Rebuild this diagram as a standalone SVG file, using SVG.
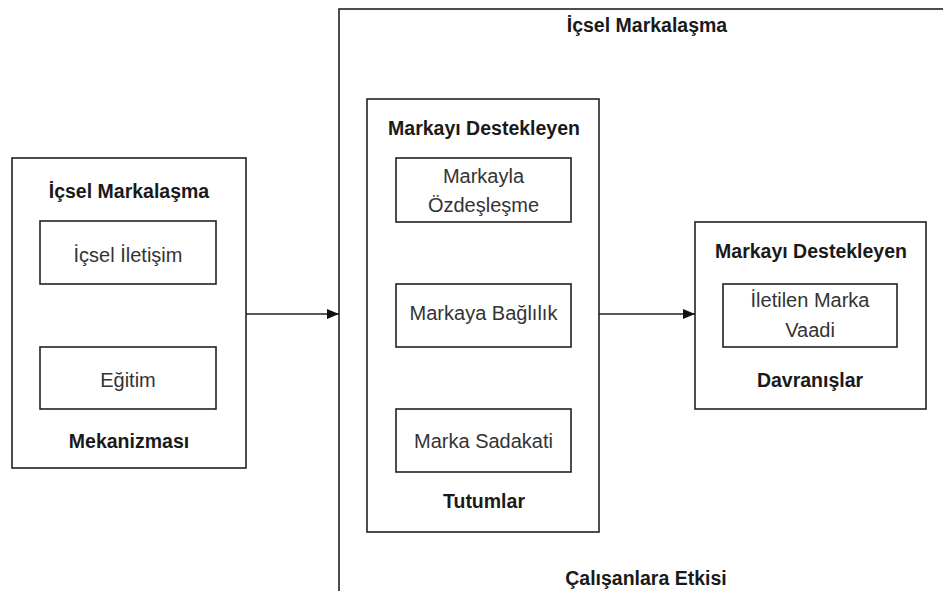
<svg xmlns="http://www.w3.org/2000/svg" width="943" height="591" viewBox="0 0 943 591">
  <style>
    .box { fill: none; stroke: #222; stroke-width: 1.6; }
    .title { font-family: "Liberation Sans", Arial, sans-serif; font-weight: bold; font-size: 19.5px; fill: #1a1a1a; text-anchor: middle; }
    .label { font-family: "Liberation Sans", Arial, sans-serif; font-size: 20px; fill: #333; text-anchor: middle; }
    .link { fill: none; stroke: #222; stroke-width: 1.6; }
  </style>
  <defs>
    <marker id="arrow" viewBox="0 0 12 10" refX="12" refY="5" markerWidth="12" markerHeight="10" markerUnits="userSpaceOnUse" orient="auto">
      <path d="M0,0 L12,5 L0,10 Z" fill="#111"/>
    </marker>
  </defs>
  <rect width="943" height="591" fill="#fff"/>

  <!-- left: mechanism -->
  <g id="mekanizma">
    <rect class="box" x="12" y="158" width="234" height="310"/>
    <text class="title" x="129" y="198">İçsel Markalaşma</text>
    <text class="title" x="129" y="448">Mekanizması</text>
  </g>
  <g id="icsel-iletisim">
    <rect class="box" x="40" y="221" width="176" height="63"/>
    <text class="label" x="128" y="262">İçsel İletişim</text>
  </g>
  <g id="egitim">
    <rect class="box" x="40" y="347" width="176" height="62"/>
    <text class="label" x="128" y="387">Eğitim</text>
  </g>

  <!-- large frame: effects on employees -->
  <g id="calisanlara-etkisi">
    <rect class="box" x="339" y="9" width="640" height="600"/>
    <text class="title" x="647" y="32">İçsel Markalaşma</text>
    <text class="title" x="646" y="585">Çalışanlara Etkisi</text>
  </g>

  <!-- attitudes -->
  <g id="tutumlar">
    <rect class="box" x="367" y="99" width="232" height="433"/>
    <text class="title" x="484" y="135">Markayı Destekleyen</text>
    <text class="title" x="484" y="508">Tutumlar</text>
  </g>
  <g id="ozdeslesme">
    <rect class="box" x="396" y="158" width="175" height="64"/>
    <text class="label" x="483.5" y="183">Markayla</text>
    <text class="label" x="483.5" y="212">Özdeşleşme</text>
  </g>
  <g id="baglilik">
    <rect class="box" x="396" y="284" width="175" height="63"/>
    <text class="label" x="483.5" y="320">Markaya Bağlılık</text>
  </g>
  <g id="sadakat">
    <rect class="box" x="396" y="409" width="175" height="63"/>
    <text class="label" x="483.5" y="448">Marka Sadakati</text>
  </g>

  <!-- behaviours -->
  <g id="davranislar">
    <rect class="box" x="695" y="222" width="231" height="187"/>
    <text class="title" x="811" y="258">Markayı Destekleyen</text>
    <text class="title" x="810" y="387">Davranışlar</text>
  </g>
  <g id="marka-vaadi">
    <rect class="box" x="723" y="284" width="174" height="63"/>
    <text class="label" x="810" y="307">İletilen Marka</text>
    <text class="label" x="810" y="337">Vaadi</text>
  </g>

  <!-- connectors -->
  <g id="connectors">
    <path class="link" d="M246,314 L339,314" marker-end="url(#arrow)"/>
    <path class="link" d="M599,314 L695,314" marker-end="url(#arrow)"/>
  </g>
</svg>
